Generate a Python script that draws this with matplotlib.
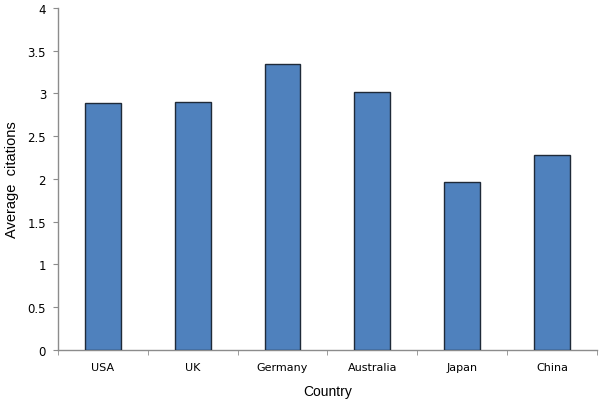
import numpy as np
import matplotlib.pyplot as plt
from matplotlib.ticker import FixedLocator, NullFormatter

# values
countries = ['USA', 'UK', 'Germany', 'Australia', 'Japan', 'China']
avg_citations = [2.89, 2.90, 3.34, 3.02, 1.96, 2.28]
y_ticks = [0, 0.5, 1, 1.5, 2, 2.5, 3, 3.5, 4]
y_tick_labels = ['0', '0.5', '1', '1.5', '2', '2.5', '3', '3.5', '4']

fig = plt.figure(figsize=(6, 4.02), dpi=100)
ax = fig.add_axes([0.0967, 0.127, 0.898, 0.851])

x = np.arange(len(countries))
ax.bar(x, avg_citations, width=0.4, color='#4F81BD', edgecolor='#1F2A38', linewidth=1.0, zorder=3)

ax.set_xlim(-0.5, len(countries) - 0.5)
ax.set_ylim(0, 4)

ax.spines['top'].set_visible(False)
ax.spines['right'].set_visible(False)
for s in ('left', 'bottom'):
    ax.spines[s].set_color('#8C8C8C')
    ax.spines[s].set_linewidth(1.0)

ax.set_yticks(y_ticks)
ax.set_yticklabels(y_tick_labels, fontsize=8.5, fontname='DejaVu Sans')
ax.tick_params(axis='y', direction='out', length=3.6, color='#8C8C8C', pad=5)

# category labels centred, ticks at the boundaries
ax.set_xticks(x)
ax.set_xticklabels(countries, fontsize=8, fontname='DejaVu Sans')
ax.tick_params(axis='x', which='major', length=0, pad=9)
ax.xaxis.set_minor_locator(FixedLocator(np.arange(len(countries) + 1) - 0.5))
ax.xaxis.set_minor_formatter(NullFormatter())
ax.tick_params(axis='x', which='minor', direction='out', length=3.6, color='#8C8C8C')

ax.set_xlabel('Country', fontsize=10, fontname='Liberation Sans', labelpad=8)
ax.set_ylabel('Average  citations', fontsize=10.5, fontname='Liberation Sans', labelpad=6)

fig.savefig('out.png', dpi=100)
